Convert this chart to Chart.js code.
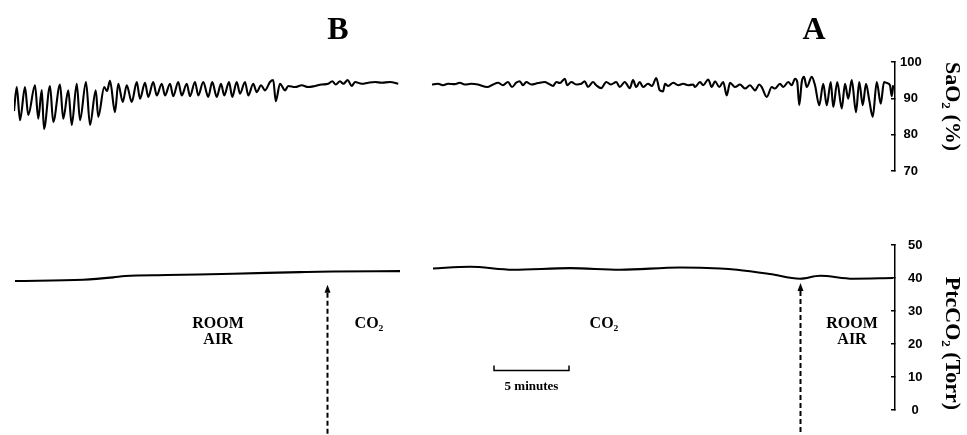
<!DOCTYPE html>
<html><head><meta charset="utf-8">
<script src="https://cdn.jsdelivr.net/npm/chart.js@4.4.1/dist/chart.umd.min.js"></script>
<style>
html,body{margin:0;padding:0;background:#fff;}
#wrap{position:relative;width:967px;height:435px;overflow:hidden;background:#fff;}
canvas{position:absolute;left:0;}
#top{top:0;width:967px;height:200px;}
#bot{top:200px;width:967px;height:235px;}
</style></head><body>
<div id="wrap"><canvas id="top" width="967" height="200"></canvas><canvas id="bot" width="967" height="235"></canvas></div>
<script>
// ---- data (time in seconds from start of trace B) ----
const panelLetters = ['B', 'A'];
const panelLetterTimes = [1296, 3200];

const saTicks = [70, 80, 90, 100];
const co2Ticks = [0, 10, 20, 30, 40, 50];

const saTimeB = [0,11,24,44,57,84,97,111,120,144,157,184,197,217,231,251,264,288,304,327,337,361,372,384,404,417,435,451,471,491,504,524,537,557,571,591,604,624,637,657,671,691,704,724,737,757,777,793,811,828,841,860,873,891,904,924,937,957,971,988,1004,1024,1037,1047,1064,1084,1097,1124,1151,1177,1204,1231,1257,1273,1287,1304,1317,1335,1351,1364,1391,1417,1444,1471,1504,1537];
const saValB = [86.5,93.1,84,93.1,85.4,93.6,84.4,92.3,81.6,93.4,83.5,93.8,84.4,92.2,82.7,94,84,94.5,82.7,92.2,84.9,93.1,92,94.8,86.2,94,89,93.6,89,94.5,89.9,94.3,90.4,94.5,90.8,94,90.8,94,90.6,94.5,90.8,94,90.6,94.5,90.8,94.5,90.4,94.5,90.4,94,90.8,94.5,90.4,94.5,91.3,94.5,90.8,94,91.7,93.6,92.2,94.5,95,89.2,94,92.2,93.4,93.1,93.6,93.1,93.4,93.8,94,94.7,93.8,94.7,94,95,93.4,94.5,94,94.3,94.5,94.3,94.5,94];

const saTimeA = [1672,1696,1716,1736,1763,1783,1803,1829,1856,1893,1916,1936,1956,1976,1992,2009,2023,2036,2049,2069,2096,2123,2139,2156,2169,2184,2203,2213,2229,2249,2269,2283,2296,2316,2329,2349,2369,2388,2409,2423,2443,2463,2476,2489,2503,2516,2536,2552,2569,2583,2596,2604,2617,2637,2657,2677,2697,2717,2724,2744,2757,2777,2791,2804,2821,2837,2851,2864,2884,2904,2924,2944,2964,2981,2991,3011,3031,3044,3064,3077,3097,3111,3124,3133,3141,3151,3160,3171,3191,3204,3221,3237,3251,3267,3277,3293,3311,3324,3337,3351,3368,3381,3395,3408,3421,3435,3451,3467,3480,3492,3504,3511,3517];
const saValA = [93.8,94,93.6,94,93.9,94.3,93.8,94,93.8,93.1,93.8,94.3,93.6,94.5,93.1,94.3,94.7,93.6,94.5,93.8,94.2,94.5,94,93.4,94.5,94.2,95.4,93.6,94.5,93.8,94,94.7,93.1,94.5,93.6,92.8,94.5,93.8,94.5,93.1,94.5,92.8,95,93.1,94.5,93.1,94,93.4,95.6,92.2,91.9,94,93.4,94.3,93.6,94,93.6,93.8,93.1,94.5,93.6,95.2,93.1,94.7,93.1,94.5,90.8,94.3,93.1,93.8,92.7,93.6,92.2,93.8,93.1,90.4,93.1,92.7,94,93.1,94.5,93.6,95.4,94.5,88.1,94.5,95.9,93.1,95.9,93.6,88.1,94,88.1,94.5,87.6,94.5,87.2,94,89.9,95,86.2,94.5,88.1,94,89.5,84.9,94.5,88.5,94.5,94.2,93.6,90.6,93.6];

const co2TimeB = [4,277,397,444,611,876,1144,1276,1544];
const co2ValB = [39.1,39.5,40.2,40.6,40.9,41.3,41.8,42,42.1];
const co2TimeA = [1676,1824,1996,2224,2424,2664,2824,2892,3024,3144,3224,3356,3516];
const co2ValA = [42.9,43.4,42.5,43,42.5,43.2,42.9,42.5,41.2,39.8,40.7,39.8,40];

// condition labels and event arrows (bottom panel)
const condLabels = [['ROOM','AIR'], ['CO₂'], ['CO₂'], ['ROOM','AIR']];
const condTimes = [816, 1420, 2360, 3352];
const arrowTimes = [1252, 3144];
const arrowTopValues = [38.0, 38.5];
const scaleBarSeconds = 300;
const scaleBarStart = 1920;
const scaleBarLabel = '5 minutes';

// ---- build point lists with a gap between the two recordings ----
function pts(tB, vB, tA, vA) {
  const out = tB.map((t, i) => ({x: t, y: vB[i]}));
  out.push({x: (tB[tB.length - 1] + tA[0]) / 2, y: null});
  tA.forEach((t, i) => out.push({x: t, y: vA[i]}));
  return out;
}
const saPts = pts(saTimeB, saValB, saTimeA, saValA);
const co2Pts = pts(co2TimeB, co2ValB, co2TimeA, co2ValA);

const X_MIN = 0, X_MAX = 3524;
const serif = '"Liberation Serif", "Times New Roman", serif';
const sans = '"Liberation Sans", Arial, Helvetica, sans-serif';

function yScale(min, max, ticks, title, align, pad) {
  return {
    type: 'linear', position: 'right', min, max,
    afterBuildTicks: s => { s.ticks = ticks.map(v => ({value: v})); },
    afterFit: s => { s.width = 72; },
    grid: {drawOnChartArea: false, drawTicks: true, tickLength: -4, color: '#000', lineWidth: 1.5},
    border: {display: true, color: '#000', width: 1.5},
    ticks: {color: '#000', font: {family: sans, size: 13, weight: 'bold'}, crossAlign: 'center', padding: pad},
    title: {display: true, text: title, align, color: '#000',
            font: {family: serif, size: 22, weight: 'bold'}, padding: {top: 2, bottom: 0}}
  };
}

const lineDs = data => ({data, borderColor: '#000', borderWidth: 2.1, pointRadius: 0,
  cubicInterpolationMode: 'monotone', spanGaps: false, fill: false});

const lettersPlugin = {
  id: 'letters',
  afterDraw(chart) {
    const {ctx, chartArea, scales: {x}} = chart;
    ctx.save();
    ctx.fillStyle = '#000';
    ctx.font = 'bold 32px ' + serif;
    ctx.textAlign = 'center';
    ctx.textBaseline = 'alphabetic';
    panelLetters.forEach((L, i) => ctx.fillText(L, x.getPixelForValue(panelLetterTimes[i]), chartArea.top - 23));
    ctx.restore();
  }
};

const annotPlugin = {
  id: 'annot',
  afterDraw(chart) {
    const {ctx, scales: {x, y}} = chart;
    ctx.save();
    ctx.strokeStyle = '#000'; ctx.fillStyle = '#000';
    arrowTimes.forEach((t, i) => {
      const px = Math.round(x.getPixelForValue(t)) + 0.5;
      const top = y.getPixelForValue(arrowTopValues[i]);
      ctx.setLineDash([5, 3]); ctx.lineWidth = 2;
      ctx.beginPath(); ctx.moveTo(px, top + 8); ctx.lineTo(px, chart.height); ctx.stroke();
      ctx.setLineDash([]);
      ctx.beginPath(); ctx.moveTo(px, top); ctx.lineTo(px - 3, top + 8); ctx.lineTo(px + 3, top + 8); ctx.closePath(); ctx.fill();
    });
    ctx.font = 'bold 16px ' + serif;
    ctx.textAlign = 'center'; ctx.textBaseline = 'alphabetic';
    condLabels.forEach((lines, i) => {
      const px = x.getPixelForValue(condTimes[i]);
      const base = y.getPixelForValue(25);
      lines.forEach((s, j) => ctx.fillText(s, px, base + j * 16));
    });
    // scale bar
    const x1 = x.getPixelForValue(scaleBarStart), x2 = x.getPixelForValue(scaleBarStart + scaleBarSeconds);
    const yb = Math.round(y.getPixelForValue(12.3)) + 0.5;
    ctx.lineWidth = 1.5;
    ctx.beginPath(); ctx.moveTo(x1, yb - 5); ctx.lineTo(x1, yb); ctx.lineTo(x2, yb); ctx.lineTo(x2, yb - 5); ctx.stroke();
    ctx.font = 'bold 13px ' + serif;
    ctx.fillText(scaleBarLabel, (x1 + x2) / 2, yb + 19);
    ctx.restore();
  }
};

new Chart(document.getElementById('top'), {
  type: 'line',
  data: {datasets: [lineDs(saPts)]},
  options: {
    responsive: false, animation: false, maintainAspectRatio: false,
    layout: {padding: {top: 62, bottom: 29, left: 14, right: 0}},
    plugins: {legend: {display: false}, tooltip: {enabled: false}},
    scales: {
      x: {type: 'linear', display: false, min: X_MIN, max: X_MAX},
      y: yScale(70, 100, saTicks, 'SaO₂ (%)', 'end', 9)
    }
  },
  plugins: [lettersPlugin]
});

new Chart(document.getElementById('bot'), {
  type: 'line',
  data: {datasets: [lineDs(co2Pts)]},
  options: {
    responsive: false, animation: false, maintainAspectRatio: false,
    layout: {padding: {top: 45, bottom: 7, left: 14, right: 0}},
    plugins: {legend: {display: false}, tooltip: {enabled: false}},
    scales: {
      x: {type: 'linear', display: false, min: X_MIN, max: X_MAX},
      y: yScale(0, 50, co2Ticks, 'PtcCO₂ (Torr)', 'start', 17)
    }
  },
  plugins: [annotPlugin]
});
</script>
</body></html>
